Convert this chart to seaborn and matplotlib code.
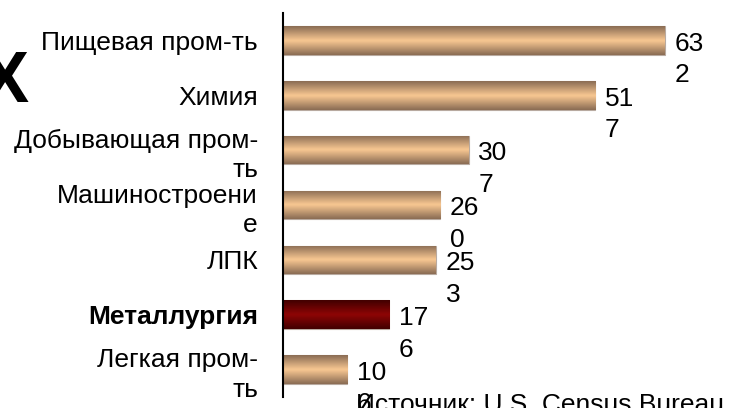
import numpy as np
import pandas as pd
import seaborn as sns
import matplotlib
matplotlib.use('Agg')
import matplotlib.pyplot as plt
from matplotlib.colors import LinearSegmentedColormap

sns.set_theme(style='white')
plt.rcParams['font.family'] = ['Liberation Sans', 'DejaVu Sans']

# данные
industries = ['Пищевая пром-ть', 'Химия', 'Добывающая пром-\nть', 'Машиностроени\nе',
              'ЛПК', 'Металлургия', 'Легкая пром-\nть']
values = [632, 517, 307, 260, 253, 176, 106]
highlight = 'Металлургия'
source = 'Источник: U.S. Census Bureau'

df = pd.DataFrame({'отрасль': industries, 'значение': values})

fig = plt.figure(figsize=(7.35, 4.08), dpi=100)
ax = fig.add_axes([283 / 735, 11 / 408, 452 / 735, 384 / 408])

sns.barplot(data=df, x='значение', y='отрасль', orient='h', width=0.52,
            color='#c9a07a', ax=ax)

# градиент на столбцах
tan = LinearSegmentedColormap.from_list('tan', ['#8a6c54', '#f9c892', '#8a6c54'])
red = LinearSegmentedColormap.from_list('red', ['#420000', '#8e0505', '#420000'])
grad = np.linspace(0, 1, 64).reshape(-1, 1)
for patch, name in zip(ax.patches, industries):
    x0, y0 = patch.get_x(), patch.get_y()
    w, h = patch.get_width(), patch.get_height()
    cm = red if name == highlight else tan
    im = ax.imshow(grad, cmap=cm, aspect='auto', extent=[x0, x0 + w, y0 + h, y0],
                   interpolation='bicubic', zorder=patch.get_zorder() + 0.1)
    im.set_clip_path(patch)
    patch.set_edgecolor('#b8aaa0')
    patch.set_linewidth(0.8)
ax.set_xlim(0, 748)
ax.set_ylim(6.5, -0.5)

# подписи значений (переносятся как в оригинале)
for i, v in enumerate(values):
    s = str(v)
    ax.text(v + 16, i - 0.16, s[:2] + '\n' + s[2:], ha='left', va='top',
            fontsize=19, linespacing=1.4, color='black')

ax.set_xlabel('')
ax.set_ylabel('')
ax.set_xticks([])
ax.tick_params(axis='y', length=0, pad=18, labelsize=19, labelcolor='black')
for lab in ax.get_yticklabels():
    lab.set_linespacing(1.3)
    if lab.get_text() == highlight:
        lab.set_fontweight('bold')
for s in ['top', 'right', 'bottom']:
    ax.spines[s].set_visible(False)
ax.spines['left'].set_color('black')
ax.spines['left'].set_linewidth(1.5)

fig.text(29 / 735, 1 - 102 / 408, 'Х', ha='right', va='baseline', fontsize=52,
         fontweight='bold', color='black')
fig.text(356 / 735, 1 - 412 / 408, source, ha='left', va='baseline', fontsize=19, color='black')

fig.savefig('out.png', dpi=100)
